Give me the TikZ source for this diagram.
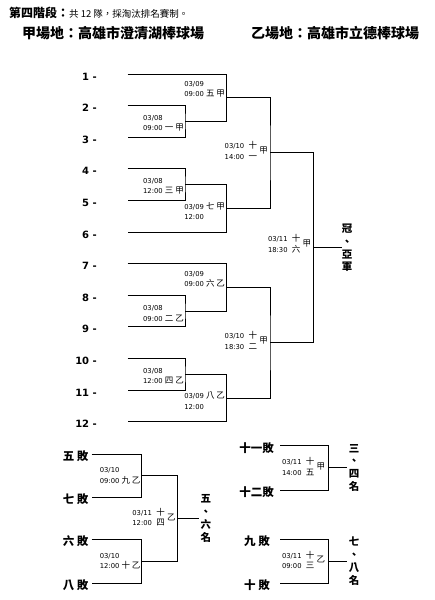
\documentclass[tikz,border=0pt]{standalone}
\usepackage{fontspec}
\setmainfont{DejaVu Sans}
\newfontfamily\cjk{Noto Sans CJK TC}
\usetikzlibrary{positioning}
\newcommand{\zh}[1]{{\cjk\fontsize{8.5}{10.5}\selectfont #1}}
\newcommand{\stk}[5]{\begin{tabular}{@{}l@{\ \ }c@{}}#1 & \zh{#2}\\#3 & \zh{#4}\end{tabular}\ \zh{#5}}
\tikzset{
	team/.style={
		anchor=east,
		inner sep=0pt,
		font=\fontsize{10}{12}\selectfont\bfseries},
	loser/.style={
		anchor=east,
		inner sep=0pt,
		font=\cjk\fontsize{11.5}{12}\selectfont\bfseries},
	game/.style={
		inner sep=0pt,
		align=left,
		font=\fontsize{6.8}{10.5}\selectfont},
	rank/.style={
		inner sep=0pt,
		align=center,
		font=\cjk\fontsize{10.5}{12.8}\selectfont\bfseries},
	wire/.style={
		line width=1pt}
}

\begin{document}
\begin{tikzpicture}[x=1pt,y=-1pt]
	\useasboundingbox (0,0) rectangle (434,600);
	% titles
	\node[anchor=west, inner sep=0pt] (title) at (9,12.5)
		{\cjk\fontsize{12}{14}\selectfont\bfseries 第四階段：\mdseries\fontsize{9.5}{12}\selectfont 共 12 隊，採淘汰排名賽制。};
	\node[anchor=west, inner sep=0pt] (siteA) at (22,33.5)
		{\cjk\fontsize{14}{16}\selectfont\bfseries 甲場地：高雄市澄清湖棒球場};
	\node[anchor=west, inner sep=0pt] (siteB) at (251,33.5)
		{\cjk\fontsize{14}{16}\selectfont\bfseries 乙場地：高雄市立德棒球場};

	% teams
	\foreach \i in {1,...,12} {
		\node[team] (t\i) at (97,{76.5+(\i-1)*31.6}) {\i\ -};
		\coordinate (s\i) at (127.7,{74+(\i-1)*31.6});
	}

	% main bracket
	\coordinate (g1) at (185,121.5);
	\coordinate (g3) at (185,184.2);
	\coordinate (g2) at (185,311.5);
	\coordinate (g4) at (185,374.2);
	\coordinate (g5) at (226.7,97.8);
	\coordinate (g7) at (226.7,208);
	\coordinate (g6) at (226.7,287.8);
	\coordinate (g8) at (226.7,398);
	\coordinate (g11) at (270,152.9);
	\coordinate (g12) at (270,342.9);
	\coordinate (g16) at (313.3,247.9);
	\coordinate (f16) at (341.7,247.9);

	\draw[wire] (s2) -| (g1) |- (s3);
	\draw[wire] (s4) -| (g3) |- (s5);
	\draw[wire] (s8) -| (g2) |- (s9);
	\draw[wire] (s10) -| (g4) |- (s11);
	\draw[wire] (s1) -| (g5) |- (g1);
	\draw[wire] (g3) -| (g7) |- (s6);
	\draw[wire] (s7) -| (g6) |- (g2);
	\draw[wire] (g4) -| (g8) |- (s12);
	\draw[wire] (g5) -| (g11) |- (g7);
	\draw[wire] (g6) -| (g12) |- (g8);
	\draw[wire] (g11) -| (g16) |- (g12);
	\draw[wire] (g16) -- (f16);

	\node[game, left=1pt of g1, yshift=-2pt] (l1) {03/08\\09:00 \zh{一\ 甲}};
	\node[game, left=1pt of g3, yshift=-2pt] (l3) {03/08\\12:00 \zh{三\ 甲}};
	\node[game, left=1pt of g2, yshift=-2pt] (l2) {03/08\\09:00 \zh{二\ 乙}};
	\node[game, left=1pt of g4, yshift=-2pt] (l4) {03/08\\12:00 \zh{四\ 乙}};
	\node[game, above left=0pt and 1.5pt of g5] (l5) {03/09\\09:00 \zh{五\ 甲}};
	\node[game, above left=0pt and 1.5pt of g6] (l6) {03/09\\09:00 \zh{六\ 乙}};
	\node[game, below left=-6pt and 1.5pt of g7] (l7) {03/09 \zh{七\ 甲}\\12:00};
	\node[game, below left=-6pt and 1.5pt of g8] (l8) {03/09 \zh{八\ 乙}\\12:00};
	\node[game, left=2pt of g11, yshift=1pt] (l11) {\stk{03/10}{十}{14:00}{一}{甲}};
	\node[game, left=2pt of g12, yshift=1pt] (l12) {\stk{03/10}{十}{18:30}{二}{甲}};
	\node[game, left=2pt of g16, yshift=3pt] (l16) {\stk{03/11}{十}{18:30}{六}{甲}};
	\node[rank, right=0pt of f16] (r16) {冠\\、\\亞\\軍};

	% placing games, left
	\coordinate (u1) at (91.7,454);
	\coordinate (u2) at (91.7,497.3);
	\coordinate (u3) at (91.7,539);
	\coordinate (u4) at (91.7,583.3);
	\coordinate (g9) at (141.7,475.7);
	\coordinate (g10) at (141.7,561.2);
	\coordinate (g14) at (177.7,518.4);
	\coordinate (f14) at (199.3,518.4);

	\node[loser, left=3pt of u1, yshift=-2pt] (n5) {五\ 敗};
	\node[loser, left=3pt of u2, yshift=-2pt] (n7) {七\ 敗};
	\node[loser, left=3pt of u3, yshift=-2pt] (n6) {六\ 敗};
	\node[loser, left=3pt of u4, yshift=-2pt] (n8) {八\ 敗};

	\draw[wire] (u1) -| (g9) |- (u2);
	\draw[wire] (u3) -| (g10) |- (u4);
	\draw[wire] (g9) -| (g14) |- (g10);
	\draw[wire] (g14) -- (f14);

	\node[game, left=1pt of g9] (l9) {03/10\\09:00 \zh{九\ 乙}};
	\node[game, left=1pt of g10] (l10) {03/10\\12:00 \zh{十\ 乙}};
	\node[game, left=2pt of g14] (l14) {\stk{03/11}{十}{12:00}{四}{乙}};
	\node[rank, right=1pt of f14] (r14) {五\\、\\六\\名};

	% placing games, right
	\coordinate (v1) at (280,445.7);
	\coordinate (v2) at (280,490);
	\coordinate (v3) at (280,539);
	\coordinate (v4) at (280,583.3);
	\coordinate (g15) at (328.3,467.9);
	\coordinate (g13) at (328.3,561.2);
	\coordinate (f15) at (346.7,467.9);
	\coordinate (f13) at (346.7,561.2);

	\node[loser, left=6pt of v1, yshift=-2.5pt] (n11) {十一敗};
	\node[loser, left=6pt of v2, yshift=-2.5pt] (n12) {十二敗};
	\node[loser, left=10pt of v3, yshift=-2.5pt] (n9) {九\ 敗};
	\node[loser, left=10pt of v4, yshift=-2pt] (n10) {十\ 敗};

	\draw[wire] (v1) -| (g15) |- (v2);
	\draw[wire] (v3) -| (g13) |- (v4);
	\draw[wire] (g15) -- (f15);
	\draw[wire] (g13) -- (f13);

	\node[game, left=3pt of g15] (l15) {\stk{03/11}{十}{14:00}{五}{甲}};
	\node[game, left=3pt of g13] (l13) {\stk{03/11}{十}{09:00}{三}{乙}};
	\node[rank, right=2pt of f15] (r15) {三\\、\\四\\名};
	\node[rank, right=2pt of f13] (r13) {七\\、\\八\\名};
\end{tikzpicture}
\end{document}
